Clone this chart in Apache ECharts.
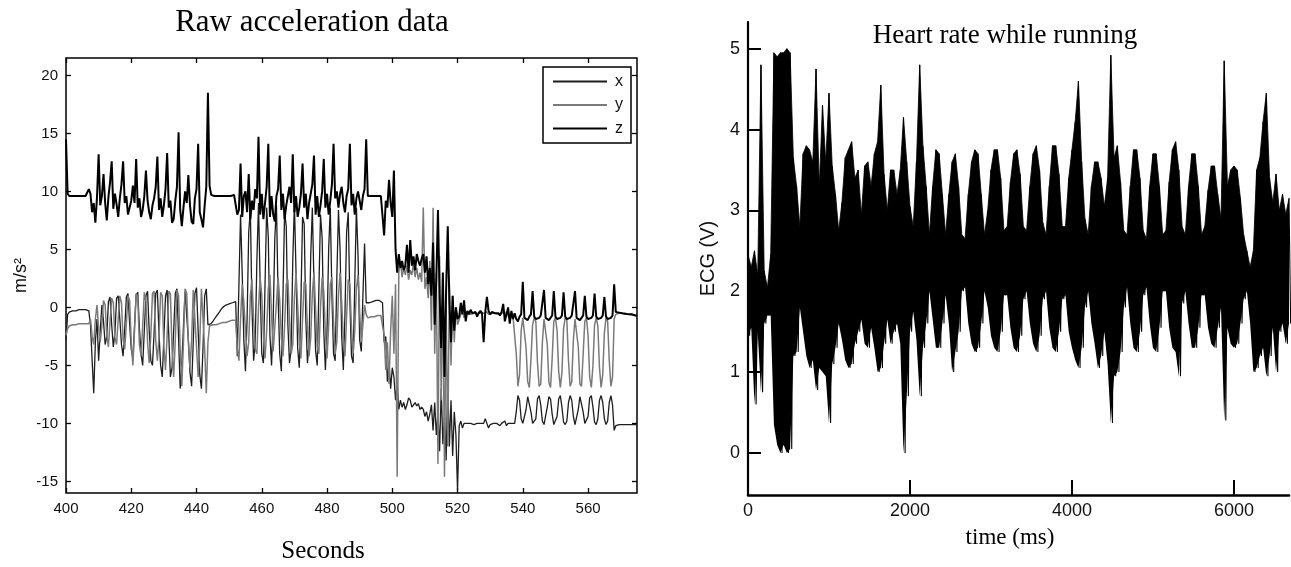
<!DOCTYPE html>
<html>
<head>
<meta charset="utf-8">
<script src="https://cdn.jsdelivr.net/npm/echarts@6/dist/echarts.min.js"></script>
<style>
html,body{margin:0;padding:0;background:#fff;}
#c{width:1291px;height:567px;}
</style>
</head>
<body>
<div id="c"></div>
<script>
// ---------- Left panel: raw acceleration (m/s^2), sampled every 0.5 s, in segments ----------
const accStep = 0.5;
const accSegStart = [400, 407, 444.5, 452, 492.5, 497, 520.5, 538, 568.5];
const accX = [
  [-2.8,-0.6,-0.4,-0.3,-0.3,-0.3,-0.3,-0.3,-0.2,-0.2,-0.2,-0.2,-0.2,-0.2],
  [-0.3,-1.5,-4.5,-7.4,-3.0,-1.0,-4.6,-2.0,0.2,-1.2,
   -3.2,-2.5,0.5,0.9,-1.5,-3.4,-2.2,0.8,1.0,-1.0,
   -3.2,-4.2,-1.8,0.9,1.2,-1.4,-3.6,-4.4,-1.6,1.1,
   1.3,-1.8,-4.0,-5.0,-2.0,1.0,1.4,-2.0,-4.6,-5.0,
   -2.2,1.2,1.5,-2.2,-5.0,-6.0,-2.6,1.0,1.5,-2.4,
   -6.0,-5.2,-2.0,1.2,1.6,-2.6,-7.0,-4.8,-1.6,1.4,
   1.5,-2.8,-5.6,-6.8,-3.0,1.2,1.7,-2.0,-5.8,-7.0,
   -3.4,1.0,1.6,-1.5,-1.6],
  [-1.4,-1.2,-1.0,-0.8,-0.6,-0.4,-0.2,0.0,0.1,0.2,0.3,0.3,0.4,0.4,0.5],
  [0.5,-4.2,2.0,8.0,3.0,-2.8,-5.5,-1.0,6.5,8.4,
   0.0,-4.6,-3.0,4.0,9.0,2.0,-4.0,-4.8,2.0,8.6,
   6.0,-2.4,-5.0,-1.0,6.0,8.8,1.0,-4.0,-5.5,1.0,
   8.2,7.0,-1.5,-4.8,-3.6,4.0,9.0,3.0,-3.5,-5.2,
   0.5,7.8,7.2,-1.0,-4.8,-3.0,4.4,8.6,2.0,-3.8,
   -5.0,1.5,8.0,6.0,-2.0,-5.4,-2.0,5.0,8.6,1.0,
   -4.0,-4.6,2.5,8.4,5.0,-2.5,-5.4,-0.5,6.5,8.2,
   0.5,-4.2,-4.8,2.0,8.6,4.5,-2.8,-3.8,1.0,5.5,
   0.4],
  [0.3,0.4,0.5,0.5,0.5,0.6,0.6,0.6,0.6],
  [0.4,-3.0,-2.5,-6.4,-4.8,-7.0,-5.2,-6.0,-8.0,-6.5,
   -8.8,-8.0,-8.6,-8.2,-8.8,-8.4,-7.8,-8.0,-8.6,-8.4,
   -8.2,-8.5,-8.3,-8.8,-8.6,-8.8,-9.4,-9.0,-9.8,-9.2,
   -8.4,-10.6,-8.2,-11.0,-9.0,-12.4,-7.0,-11.8,-9.4,-13.2,
   -6.5,-12.0,-8.0,-12.8,-9.0,-11.0,-15.8],
  [-10.2,-9.8,-10.4,-10.0,-10.1,-10.0,-10.1,-10.0,-10.0,-10.1,
   -10.0,-10.0,-10.1,-10.0,-10.1,-10.0,-9.6,-10.0,-10.4,-10.1,
   -10.0,-10.0,-10.1,-10.0,-10.1,-10.2,-10.0,-10.1,-9.8,-10.2,
   -10.0,-10.1,-10.0,-10.1,-10.0],
  [-9.0,-7.6,-8.0,-9.6,-10.0,-10.1,-8.8,-7.7,-7.8,-9.0,
   -10.0,-10.1,-9.6,-7.9,-7.6,-8.4,-9.8,-10.1,-10.0,-8.6,
   -7.7,-7.9,-9.2,-10.1,-10.0,-9.4,-7.9,-7.6,-8.6,-9.9,
   -10.1,-9.8,-8.2,-7.6,-8.0,-9.4,-10.1,-10.0,-8.8,-7.7,
   -7.8,-9.0,-10.0,-10.1,-9.4,-7.8,-7.6,-8.6,-9.9,-10.1,
   -9.6,-8.0,-7.6,-8.2,-9.6,-10.1,-9.8,-8.2,-7.6,-8.4,
   -10.6],
  [-10.2,-10.1,-10.1,-10.1,-10.1,-10.1,-10.1,-10.1,-10.1,-10.1,-10.1,-10.1,-10.1,-10.1]
];
const accY = [
  [-2.4,-1.8,-1.6,-1.6,-1.5,-1.5,-1.5,-1.5,-1.4,-1.4,-1.4,-1.4,-1.4,-1.3],
  [-1.4,-1.0,-2.5,-3.2,-1.0,0.2,-1.8,-3.0,-1.5,0.6,
   0.2,-2.4,-3.4,-1.2,0.8,0.4,-2.6,-3.2,-1.0,1.0,
   0.4,-2.8,-3.6,-1.4,1.0,0.6,-3.0,-5.0,-2.0,1.2,
   0.8,-3.2,-4.2,-1.6,1.3,0.5,-3.0,-4.8,-2.4,1.2,
   1.4,-2.8,-4.6,-2.6,1.3,1.0,-3.4,-5.4,-2.4,1.4,
   1.2,-3.6,-6.0,-2.8,1.5,1.0,-3.6,-6.8,-3.0,1.6,
   1.2,-3.0,-5.2,-2.8,1.5,1.4,-3.4,-6.0,-3.0,1.6,
   1.5,-3.6,-7.4,-3.0,-1.6],
  [-1.6,-1.5,-1.5,-1.5,-1.4,-1.4,-1.4,-1.3,-1.3,-1.3,-1.2,-1.2,-1.2,-1.1,-1.1],
  [-1.1,-3.5,-4.6,-1.0,2.0,0.5,-2.0,-4.2,-3.0,1.0,
   2.4,-1.0,-3.6,-4.0,0.0,2.6,1.0,-2.4,-4.4,-2.0,
   1.6,2.8,-0.6,-3.8,-3.8,0.4,2.6,0.6,-2.6,-4.2,
   -1.6,2.0,2.4,-1.0,-4.0,-3.2,0.8,3.0,0.2,-3.0,
   -4.4,-1.0,2.2,2.0,-1.8,-4.2,-2.6,1.2,3.0,-0.2,
   -3.4,-4.0,0.0,2.6,1.4,-2.2,-4.4,-1.6,2.0,2.6,
   -1.2,-4.0,-3.0,1.0,3.0,0.4,-2.8,-4.2,-0.8,2.4,
   2.0,-1.8,-4.0,-2.0,1.6,2.8,-0.4,-3.0,-1.5,0.2,
   -0.6],
  [-0.9,-0.9,-0.8,-0.8,-0.8,-0.8,-0.7,-0.7,-0.7],
  [-0.7,-2.4,-5.4,-3.0,-6.6,-2.0,1.0,-4.0,2.0,-14.6,
   3.0,4.0,2.6,3.4,2.8,3.6,2.4,3.2,2.8,3.8,
   2.6,3.4,2.4,3.0,2.2,8.6,1.6,2.6,0.8,4.0,
   -2.0,8.6,-4.0,3.0,-13.5,4.4,-8.0,2.0,-14.6,0.5,
   -12.0,2.0,-5.0,1.0,-3.0,0.0,-1.5],
  [-1.4,-0.6,-0.2,-0.9,-0.5,-0.6,-0.4,-0.6,-0.5,-0.5,
   -0.6,-0.5,-0.4,-0.5,-0.6,-0.5,-0.5,-0.4,-0.6,-0.5,
   -0.5,-0.6,-0.5,-0.4,-0.6,-0.5,-0.5,-0.6,-0.4,-0.8,
   -0.5,-0.9,-0.6,-0.8,-0.7],
  [-4.0,-6.8,-5.8,-2.0,-0.9,-1.0,-3.5,-6.4,-6.9,-4.5,
   -1.5,-0.9,-1.2,-4.8,-6.8,-6.6,-3.0,-1.0,-1.0,-3.2,
   -6.5,-6.9,-4.4,-1.2,-0.9,-2.0,-5.5,-6.9,-5.6,-1.8,
   -0.9,-1.1,-4.6,-6.8,-6.4,-2.8,-1.0,-1.0,-3.4,-6.6,
   -6.8,-4.0,-1.2,-0.9,-2.4,-6.0,-6.9,-5.0,-1.5,-0.9,
   -1.6,-5.2,-6.9,-5.8,-2.2,-0.9,-1.2,-4.6,-6.8,-6.0,
   -1.0],
  [-0.6,-0.5,-0.5,-0.5,-0.5,-0.55,-0.6,-0.6,-0.6,-0.6,-0.65,-0.65,-0.7,-0.7]
];
const accZ = [
  [14.5,9.8,9.6,9.6,9.6,9.6,9.6,9.6,9.6,9.6,9.6,9.6,9.6,9.7],
  [10.2,9.8,8.2,9.0,7.3,9.5,13.2,8.8,9.6,11.5,
   9.0,7.5,9.5,10.8,12.6,8.5,9.8,8.9,7.8,9.4,
   10.6,12.6,9.0,9.6,8.0,8.6,9.2,10.5,9.0,12.8,
   8.6,9.4,7.8,8.4,9.6,11.8,9.2,8.2,7.6,8.8,
   9.4,10.4,13.0,8.4,9.4,7.8,8.8,10.2,13.3,8.6,
   9.2,7.3,7.6,9.2,10.4,15.1,8.4,7.0,8.6,10.0,
   9.0,11.4,8.8,7.4,7.2,9.4,10.2,14.1,8.2,7.6,
   6.9,8.8,10.4,18.5,10.5],
  [9.7,9.6,9.6,9.6,9.6,9.6,9.6,9.6,9.6,9.6,9.6,9.6,9.6,9.6,9.7],
  [9.6,8.0,8.4,12.4,7.8,9.6,10.0,8.2,11.5,7.6,
   9.2,8.4,10.2,9.4,14.7,8.0,9.8,7.6,9.0,10.4,
   14.1,7.8,9.6,8.0,7.4,9.6,10.2,13.1,8.4,9.8,
   7.6,8.8,9.6,10.4,9.0,13.2,8.2,9.6,7.8,8.6,
   9.8,12.4,8.6,9.8,7.6,9.0,9.8,10.6,13.1,8.0,
   9.6,7.8,8.8,10.0,12.8,8.6,9.8,8.0,9.2,10.6,
   14.1,9.4,10.0,8.6,9.8,10.4,9.0,8.2,9.6,10.2,
   14.1,8.8,9.8,8.0,9.4,10.0,9.2,8.4,9.6,10.2,
   14.5],
  [9.6,9.6,9.6,9.6,9.6,9.6,9.6,9.6,9.6],
  [9.6,6.2,9.2,8.6,11.0,9.0,7.8,11.8,5.0,3.0,
   4.6,3.4,4.0,3.2,3.6,5.4,3.0,5.8,3.6,4.4,
   3.2,4.6,4.0,3.6,4.2,4.6,3.0,4.4,2.0,3.4,
   1.0,5.6,-1.5,2.5,8.4,1.0,-3.5,3.0,-6.0,1.5,
   7.0,0.5,-3.0,1.0,-2.0,0.0,-1.0],
  [-0.8,0.4,-0.6,0.6,-1.2,-0.3,-0.6,-0.2,-0.5,-0.6,
   -0.4,-0.8,-0.5,-0.3,-0.5,-3.0,-0.4,0.9,-0.3,-0.6,
   -0.4,-0.3,-0.5,-0.6,-0.5,-0.7,-0.4,0.3,-1.2,-0.6,
   0.0,-1.4,-0.3,-1.0,-0.5],
  [-1.0,-1.2,-0.8,-0.6,2.2,-0.9,-1.0,-1.1,-0.8,-0.6,
   1.4,-0.8,-1.0,-1.1,-0.9,-0.7,-0.6,1.5,-0.9,-1.0,
   -1.1,-0.9,-0.7,1.4,-0.8,-1.0,-1.1,-0.9,-0.7,1.3,
   -0.8,-1.0,-1.1,-0.9,-0.7,-0.6,1.4,-0.9,-1.0,-1.1,
   -0.9,-0.7,1.0,-0.8,-1.0,-1.1,-0.9,-0.7,1.2,-0.8,
   -1.0,-1.1,-0.9,-0.7,0.9,-0.8,-1.0,-1.1,-0.9,-0.7,
   2.0],
  [-0.4,-0.4,-0.45,-0.5,-0.5,-0.5,-0.55,-0.55,-0.6,-0.6,-0.6,-0.65,-0.7,-0.7]
];
const accTicksX = [400, 420, 440, 460, 480, 500, 520, 540, 560];
const accTicksY = [-15, -10, -5, 0, 5, 10, 15, 20];

// ---------- Right panel: ECG (V), peak / trough of the signal every 40 ms ----------
const ecgStep = 40;
const ecgHigh = [
  2.45,2.3,2.5,2.2,4.8,2.25,2.05,2.45,4.95,4.9,
  4.95,4.95,5.0,4.95,3.65,3.3,2.8,3.7,3.8,3.75,
  3.6,4.75,3.3,4.3,3.6,4.45,3.55,3.2,2.75,3.1,
  3.65,3.75,3.85,3.4,3.5,2.95,3.55,3.6,3.3,3.7,
  3.85,4.55,3.45,3.0,3.5,3.5,3.2,3.5,4.15,3.6,
  3.05,2.8,3.6,4.8,3.8,3.3,2.7,3.3,3.75,3.7,
  3.2,2.7,3.2,3.6,3.7,3.3,2.7,2.65,3.2,3.6,
  3.75,3.7,3.2,2.7,3.0,3.5,3.75,3.75,3.4,2.75,
  2.8,3.35,3.7,3.75,3.45,2.8,2.75,3.3,3.7,3.8,
  3.5,2.85,2.7,3.3,3.8,3.8,3.45,2.8,2.8,3.4,
  3.75,4.1,4.6,3.6,2.9,2.7,3.3,3.6,3.6,3.4,
  3.05,3.4,4.92,3.65,3.8,3.35,2.75,2.7,3.3,3.75,
  3.75,3.4,2.75,2.65,3.3,3.7,3.7,3.3,2.7,2.75,
  3.35,3.75,3.85,3.5,2.8,2.7,3.3,3.7,3.7,3.3,
  2.7,2.8,3.25,3.55,3.55,3.2,2.9,4.85,3.3,3.5,
  3.55,3.5,3.15,2.7,2.5,2.3,2.5,3.5,3.65,4.1,
  4.45,3.4,3.1,3.45,3.0,3.2,2.95,3.15
];
const ecgLow = [
  1.45,1.55,0.6,1.5,0.75,1.6,1.7,1.7,0.35,0.1,
  0.0,0.1,0.0,0.05,1.2,1.25,1.8,1.5,1.2,1.05,
  1.15,0.78,1.05,1.0,0.95,0.37,1.1,1.3,1.6,1.4,
  1.15,1.05,1.1,1.35,1.5,1.65,1.35,1.3,1.55,1.3,
  1.0,1.05,1.35,1.65,1.35,1.5,1.6,1.35,0.0,0.7,
  1.5,1.75,1.4,0.7,1.3,1.6,2.0,1.65,1.3,1.3,
  1.6,1.95,1.6,1.0,1.25,1.5,2.0,2.05,1.6,1.35,
  1.25,1.3,1.6,2.0,1.8,1.45,1.3,1.25,1.5,1.95,
  1.95,1.55,1.3,1.25,1.45,1.9,2.0,1.6,1.35,1.25,
  1.45,1.9,2.0,1.55,1.3,1.25,1.5,1.9,1.95,1.5,
  1.3,1.15,1.05,1.3,1.8,2.0,1.6,1.35,1.05,1.2,
  1.5,1.1,0.37,0.95,1.0,1.25,1.8,2.05,1.6,1.3,
  1.25,1.5,1.95,2.05,1.6,1.3,1.25,1.55,2.0,2.0,
  1.55,1.3,1.25,0.95,1.85,2.0,1.6,1.3,1.3,1.55,
  1.95,1.95,1.55,1.35,1.3,1.55,1.8,0.4,1.55,1.35,
  1.3,1.35,1.6,1.9,2.0,1.6,1.0,1.05,1.2,1.3,
  0.95,1.2,1.55,1.0,1.5,1.6,1.35,1.6
];
const ecgTicksX = [0, 2000, 4000, 6000];
const ecgTicksY = [0, 1, 2, 3, 4, 5];

// ---------- build series data ----------
function accPoints(segs) {
  const out = [];
  segs.forEach((seg, s) => {
    seg.forEach((v, k) => out.push([accSegStart[s] + accStep * k, v]));
  });
  return out;
}
const ecgPoints = [];
ecgHigh.forEach((h, i) => {
  ecgPoints.push([i * ecgStep, h]);
  ecgPoints.push([i * ecgStep + ecgStep / 2, ecgLow[i]]);
});
const ecgUpperEdge = ecgHigh.map((h, i) => [i * ecgStep, h]);
const ecgLowerEdge = ecgLow.map((l, i) => [i * ecgStep, l]);

const sans = '"Liberation Sans",Arial,Helvetica,sans-serif';
const serif = '"Liberation Serif","Times New Roman",serif';
const plain = v => String(v);

const chart = echarts.init(document.getElementById('c'), null, {renderer: 'canvas'});

chart.setOption({
  animation: false,
  backgroundColor: '#fff',
  grid: [
    {left: 66, top: 58, width: 571, height: 435, show: true, borderColor: '#000', borderWidth: 1.5, backgroundColor: 'transparent'},
    {left: 748, top: 22, width: 541, height: 473, show: false}
  ],
  legend: {
    data: ['x', 'y', 'z'],
    orient: 'vertical',
    left: 543, top: 67,
    icon: 'rect',
    itemWidth: 54, itemHeight: 2, itemGap: 6.5,
    padding: [6, 8, 6, 10],
    borderColor: '#000', borderWidth: 1.5,
    backgroundColor: '#fff',
    textStyle: {fontFamily: sans, fontSize: 16, lineHeight: 17, color: '#111', padding: [0, 0, 0, 3]}
  },
  xAxis: [
    {gridIndex: 0, type: 'value', min: 400, max: 575, position: 'bottom',
     axisLine: {show: false, onZero: false},
     axisTick: {show: true, inside: true, length: 5, customValues: accTicksX, lineStyle: {color: '#000', width: 1.3}},
     axisLabel: {customValues: accTicksX, margin: 8, formatter: plain, color: '#111', fontFamily: sans, fontSize: 15},
     splitLine: {show: false}},
    {gridIndex: 0, type: 'value', min: 400, max: 575, position: 'top',
     axisLine: {show: false, onZero: false},
     axisTick: {show: true, inside: true, length: 5, customValues: accTicksX, lineStyle: {color: '#000', width: 1.3}},
     axisLabel: {show: false}, splitLine: {show: false}},
    {gridIndex: 1, type: 'value', min: 0, max: 6680, position: 'bottom', z: 10,
     axisLine: {show: true, onZero: false, lineStyle: {color: '#000', width: 2.5}},
     axisTick: {show: true, inside: true, length: 15, customValues: ecgTicksX, lineStyle: {color: '#000', width: 2}},
     axisLabel: {customValues: ecgTicksX, margin: 7, formatter: plain, color: '#111', fontFamily: sans, fontSize: 18},
     splitLine: {show: false}}
  ],
  yAxis: [
    {gridIndex: 0, type: 'value', min: -16, max: 21.5, position: 'left',
     name: 'm/s²', nameLocation: 'middle', nameGap: 36, nameRotate: 90,
     nameTextStyle: {fontFamily: sans, fontSize: 18, color: '#111'},
     axisLine: {show: false, onZero: false},
     axisTick: {show: true, inside: true, length: 5, customValues: accTicksY, lineStyle: {color: '#000', width: 1.3}},
     axisLabel: {customValues: accTicksY, margin: 8, formatter: plain, color: '#111', fontFamily: sans, fontSize: 15},
     splitLine: {show: false}},
    {gridIndex: 0, type: 'value', min: -16, max: 21.5, position: 'right',
     axisLine: {show: false, onZero: false},
     axisTick: {show: true, inside: true, length: 5, customValues: accTicksY, lineStyle: {color: '#000', width: 1.3}},
     axisLabel: {show: false}, splitLine: {show: false}},
    {gridIndex: 1, type: 'value', min: -0.52, max: 5.33, position: 'left', z: 10,
     name: 'ECG (V)', nameLocation: 'middle', nameGap: 30, nameRotate: 90,
     nameTextStyle: {fontFamily: sans, fontSize: 20, color: '#111'},
     axisLine: {show: true, onZero: false, lineStyle: {color: '#000', width: 2.2}},
     axisTick: {show: true, inside: true, length: 13, customValues: ecgTicksY, lineStyle: {color: '#000', width: 2}},
     axisLabel: {customValues: ecgTicksY, margin: 8, formatter: plain, color: '#111', fontFamily: sans, fontSize: 18},
     splitLine: {show: false}}
  ],
  graphic: [
    {type: 'text', x: 312, y: 23, z: 20, style: {text: 'Raw acceleration data', fontFamily: serif, fontSize: 31, fill: '#000', align: 'center', verticalAlign: 'middle'}},
    {type: 'text', x: 323, y: 551, z: 20, style: {text: 'Seconds', fontFamily: serif, fontSize: 25, fill: '#000', align: 'center', verticalAlign: 'middle'}},
    {type: 'text', x: 1005, y: 36, z: 20, style: {text: 'Heart rate while running', fontFamily: serif, fontSize: 27, fill: '#000', align: 'center', verticalAlign: 'middle'}},
    {type: 'text', x: 1010, y: 538, z: 20, style: {text: 'time (ms)', fontFamily: serif, fontSize: 23, fill: '#000', align: 'center', verticalAlign: 'middle'}}
  ],
  series: [
    {name: 'x', type: 'line', xAxisIndex: 0, yAxisIndex: 0, data: accPoints(accX),
     symbol: 'none', showSymbol: false, lineStyle: {color: '#1e1e1e', width: 1.3}, itemStyle: {color: '#1e1e1e'}, z: 2},
    {name: 'y', type: 'line', xAxisIndex: 0, yAxisIndex: 0, data: accPoints(accY),
     symbol: 'none', showSymbol: false, lineStyle: {color: '#7a7a7a', width: 1.5}, itemStyle: {color: '#7a7a7a'}, z: 3},
    {name: 'z', type: 'line', xAxisIndex: 0, yAxisIndex: 0, data: accPoints(accZ),
     symbol: 'none', showSymbol: false, lineStyle: {color: '#000', width: 2}, itemStyle: {color: '#000'}, z: 4},
    // ECG: black fill under the upper edge, white mask under the lower edge, then the oscillating trace
    {name: 'ecgUpper', type: 'line', xAxisIndex: 2, yAxisIndex: 2, data: ecgUpperEdge,
     symbol: 'none', showSymbol: false, lineStyle: {color: '#000', width: 0.8},
     areaStyle: {color: '#000', opacity: 1, origin: 'start'}, z: 1},
    {name: 'ecgLower', type: 'line', xAxisIndex: 2, yAxisIndex: 2, data: ecgLowerEdge,
     symbol: 'none', showSymbol: false, lineStyle: {width: 0},
     areaStyle: {color: '#fff', opacity: 1, origin: 'start'}, z: 1},
    {name: 'ECG', type: 'line', xAxisIndex: 2, yAxisIndex: 2, data: ecgPoints,
     symbol: 'none', showSymbol: false, lineStyle: {color: '#000', width: 1.1}, itemStyle: {color: '#000'}, z: 2}
  ]
});
</script>
</body>
</html>
